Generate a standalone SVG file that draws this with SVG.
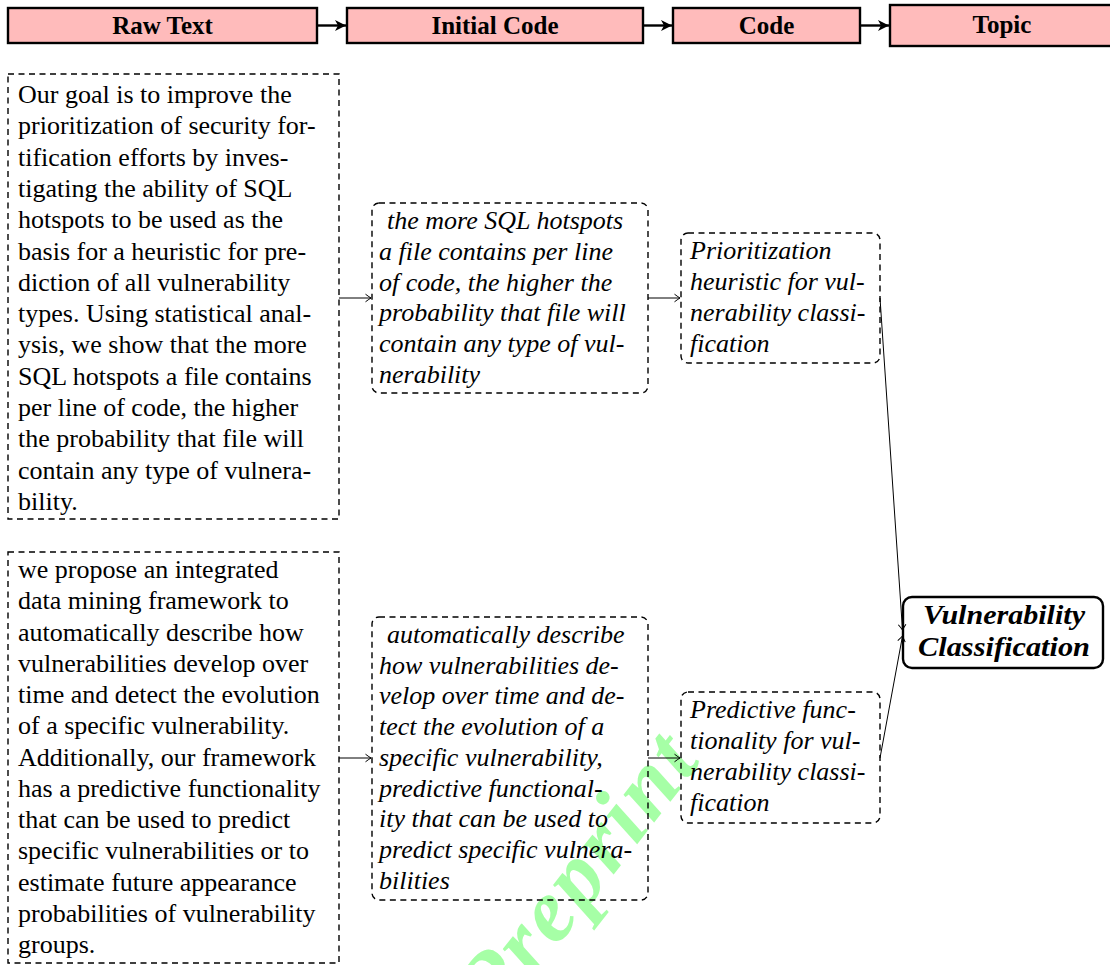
<svg xmlns="http://www.w3.org/2000/svg" width="1110" height="965" viewBox="0 0 1110 965">
<style>
.hdr{fill:#ffbbbb;stroke:#000;stroke-width:2.4}
.ht{font-family:"Liberation Serif",serif;font-weight:bold;font-size:25px;text-anchor:middle;fill:#000}
.dash{fill:none;stroke:#000;stroke-width:1.4;stroke-dasharray:6 4.5}
.rt{font-family:"Liberation Serif",serif;font-size:26px;fill:#000}
.it{font-family:"Liberation Serif",serif;font-style:italic;font-size:26px;fill:#000}
.topic{fill:#fff;stroke:#000;stroke-width:2.4}
.bt{font-family:"Liberation Serif",serif;font-style:italic;font-weight:bold;font-size:27px;text-anchor:middle;fill:#000}
.thin{fill:none;stroke:#000;stroke-width:1}
.thick{fill:none;stroke:#000;stroke-width:2.4}
.wm{font-family:"Liberation Serif",serif;font-style:italic;font-weight:bold;font-size:90px;letter-spacing:3px;fill:#a6ffa6}
</style>
<defs>
<marker id="to" markerUnits="userSpaceOnUse" markerWidth="12" markerHeight="12" viewBox="-8 -6 10 12" refX="0" refY="0" orient="auto">
<path d="M -5.5 -3.8 Q -1.5 -0.8 0 0 Q -1.5 0.8 -5.5 3.8" fill="none" stroke="#000" stroke-width="1"/>
</marker>
<marker id="st" markerUnits="userSpaceOnUse" markerWidth="16" markerHeight="16" viewBox="-12 -8 14 16" refX="0" refY="0" orient="auto">
<path d="M 0 0 L -11 -5.5 L -8 0 L -11 5.5 Z" fill="#000"/>
</marker>
</defs>

<text class="wm" transform="translate(703,760) rotate(-52)" text-anchor="end">Preprint</text>

<g id="hdr-raw"><rect class="hdr" x="8" y="8" width="309" height="35"/><text class="ht" x="162.5" y="34">Raw Text</text></g>
<g id="hdr-initial"><rect class="hdr" x="347" y="8" width="296" height="35"/><text class="ht" x="495" y="34">Initial Code</text></g>
<g id="hdr-code"><rect class="hdr" x="673" y="8" width="187" height="35"/><text class="ht" x="766.5" y="34">Code</text></g>
<g id="hdr-topic"><rect class="hdr" x="890" y="5" width="225" height="41"/><text class="ht" x="1002" y="33">Topic</text></g>

<g id="raw1">
<rect class="dash" x="8" y="74" width="331" height="445"/>
<text class="rt" x="18">
<tspan x="18" y="103">Our goal is to improve the</tspan>
<tspan x="18" y="134.3">prioritization of security for-</tspan>
<tspan x="18" y="165.6">tification efforts by inves-</tspan>
<tspan x="18" y="196.9">tigating the ability of SQL</tspan>
<tspan x="18" y="228.2">hotspots to be used as the</tspan>
<tspan x="18" y="259.5">basis for a heuristic for pre-</tspan>
<tspan x="18" y="290.8">diction of all vulnerability</tspan>
<tspan x="18" y="322.1">types. Using statistical anal-</tspan>
<tspan x="18" y="353.4">ysis, we show that the more</tspan>
<tspan x="18" y="384.7">SQL hotspots a file contains</tspan>
<tspan x="18" y="416">per line of code, the higher</tspan>
<tspan x="18" y="447.3">the probability that file will</tspan>
<tspan x="18" y="478.6">contain any type of vulnera-</tspan>
<tspan x="18" y="509.9">bility.</tspan>
</text>
</g>

<g id="raw2">
<rect class="dash" x="8" y="552" width="331" height="411"/>
<text class="rt" x="18">
<tspan x="18" y="578">we propose an integrated</tspan>
<tspan x="18" y="609.25">data mining framework to</tspan>
<tspan x="18" y="640.5">automatically describe how</tspan>
<tspan x="18" y="671.75">vulnerabilities develop over</tspan>
<tspan x="18" y="703">time and detect the evolution</tspan>
<tspan x="18" y="734.25">of a specific vulnerability.</tspan>
<tspan x="18" y="765.5">Additionally, our framework</tspan>
<tspan x="18" y="796.75">has a predictive functionality</tspan>
<tspan x="18" y="828">that can be used to predict</tspan>
<tspan x="18" y="859.25">specific vulnerabilities or to</tspan>
<tspan x="18" y="890.5">estimate future appearance</tspan>
<tspan x="18" y="921.75">probabilities of vulnerability</tspan>
<tspan x="18" y="953">groups.</tspan>
</text>
</g>

<g id="init1">
<rect class="dash" x="372" y="203" width="276" height="190" rx="7"/>
<text class="it">
<tspan x="387" y="229">the more SQL hotspots</tspan>
<tspan x="379" y="259.8">a file contains per line</tspan>
<tspan x="379" y="290.6">of code, the higher the</tspan>
<tspan x="379" y="321.4">probability that file will</tspan>
<tspan x="379" y="352.2">contain any type of vul-</tspan>
<tspan x="379" y="383">nerability</tspan>
</text>
</g>

<g id="init2">
<rect class="dash" x="372" y="617" width="276" height="283" rx="7"/>
<text class="it">
<tspan x="387" y="643">automatically describe</tspan>
<tspan x="379" y="673.7">how vulnerabilities de-</tspan>
<tspan x="379" y="704.4">velop over time and de-</tspan>
<tspan x="379" y="735.1">tect the evolution of a</tspan>
<tspan x="379" y="765.8">specific vulnerability,</tspan>
<tspan x="379" y="796.5">predictive functional-</tspan>
<tspan x="379" y="827.2">ity that can be used to</tspan>
<tspan x="379" y="857.9">predict specific vulnera-</tspan>
<tspan x="379" y="888.6">bilities</tspan>
</text>
</g>

<g id="code1">
<rect class="dash" x="681" y="233" width="199" height="130" rx="7"/>
<text class="it">
<tspan x="690" y="259">Prioritization</tspan>
<tspan x="690" y="290">heuristic for vul-</tspan>
<tspan x="690" y="321">nerability classi-</tspan>
<tspan x="690" y="352">fication</tspan>
</text>
</g>

<g id="code2">
<rect class="dash" x="681" y="692" width="199" height="131" rx="7"/>
<text class="it">
<tspan x="690" y="718">Predictive func-</tspan>
<tspan x="690" y="749">tionality for vul-</tspan>
<tspan x="690" y="780">nerability classi-</tspan>
<tspan x="690" y="811">fication</tspan>
</text>
</g>

<g id="topic">
<rect class="topic" x="903" y="597" width="200" height="71" rx="9"/>
<text class="bt" x="1004" y="624" textLength="162" lengthAdjust="spacingAndGlyphs">Vulnerability</text>
<text class="bt" x="1004" y="656" textLength="172" lengthAdjust="spacingAndGlyphs">Classification</text>
</g>

<g id="connectors">
<line class="thick" x1="317" y1="25.5" x2="346" y2="25.5" marker-end="url(#st)"/>
<line class="thick" x1="643" y1="25.5" x2="672" y2="25.5" marker-end="url(#st)"/>
<line class="thick" x1="860" y1="25.5" x2="889" y2="25.5" marker-end="url(#st)"/>
<line class="thin" x1="339" y1="298" x2="371" y2="298" marker-end="url(#to)"/>
<line class="thin" x1="648" y1="298" x2="680" y2="298" marker-end="url(#to)"/>
<line class="thin" x1="339" y1="758" x2="371" y2="758" marker-end="url(#to)"/>
<line class="thin" x1="648" y1="758" x2="680" y2="758" marker-end="url(#to)"/>
<line class="thin" x1="880" y1="298" x2="902.5" y2="630" marker-end="url(#to)"/>
<line class="thin" x1="880" y1="758" x2="902.5" y2="636" marker-end="url(#to)"/>
</g>
</svg>
